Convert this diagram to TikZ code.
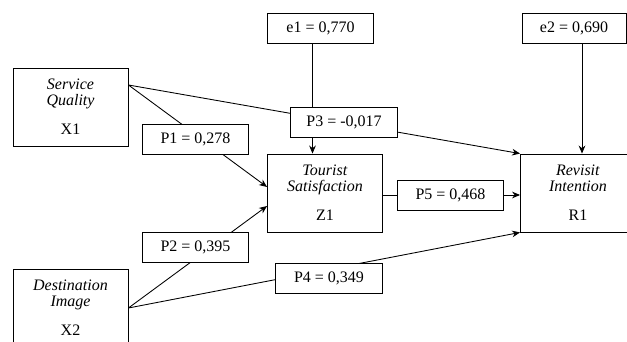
\documentclass[tikz,border=0pt]{standalone}
\usepackage{fontspec}
\setmainfont{Liberation Serif}
\usetikzlibrary{calc, arrows.meta}

\begin{document}
\begin{tikzpicture}[>={Stealth[length=6pt, width=5pt]}, x=0.75pt, y=0.75pt, line width=0.65pt,
    font=\fontsize{12}{12}\selectfont,
    var/.style={draw, fill=white, align=center, minimum width=86.25pt, minimum height=58.5pt, inner sep=0pt},
    coef/.style={draw, fill=white, minimum width=80pt, minimum height=22.5pt, inner sep=0pt}]
  \useasboundingbox (0,0) rectangle (627,342);
  \clip (0,0) rectangle (627,342);
  % Variables
  \node[var] (X1) at (70.5,235) {\textit{Service}\\\textit{Quality}\\[10pt]X1};
  \node[var] (X2) at (70.5,34) {\textit{Destination}\\\textit{Image}\\[10pt]X2};
  \node[var] (Z1) at (325,149) {\textit{Tourist}\\\textit{Satisfaction}\\[10pt]Z1};
  \node[var] (R1) at (578,149) {\textit{Revisit}\\\textit{Intention}\\[10pt]R1};
  % Errors
  \node[coef] (e1) at (320.5,314) {e1 = 0,770};
  \node[coef, minimum width=78pt] (e2) at (574,314) {e2 = 0,690};
  \node[coef] (P5) at (450.5,147) {P5 = 0,468};
  % Paths
  \draw[->] ($(X1.east)+(0,22)$) -- ($(Z1.west)+(0,6)$);
  \draw[->] ($(X1.east)+(0,22)$) -- (R1.north west);
  \draw[->] (X2.east) -- ($(Z1.west)+(0,-13)$);
  \draw[->] (X2.east) -- (R1.south west);
  \draw[->] ($(e1.south)+(-8,0)$) -- ($(Z1.north)+(-12.5,0)$);
  \draw[->] ($(e2.south)+(8,0)$) -- ($(R1.north)+(4,0)$);
  \draw (P5.west -| Z1.east) -- (P5.west);
  \draw[->] (P5.east) -- (P5.east -| R1.west);
  % Coefficients
  \node[coef] (P1) at (195.5,202.5) {P1 = 0,278};
  \node[coef] (P2) at (195.5,95) {P2 = 0,395};
  \node[coef] (P3) at (344,220) {P3 = -0,017};
  \node[coef] (P4) at (329,63.5) {P4 = 0,349};
\end{tikzpicture}
\end{document}
